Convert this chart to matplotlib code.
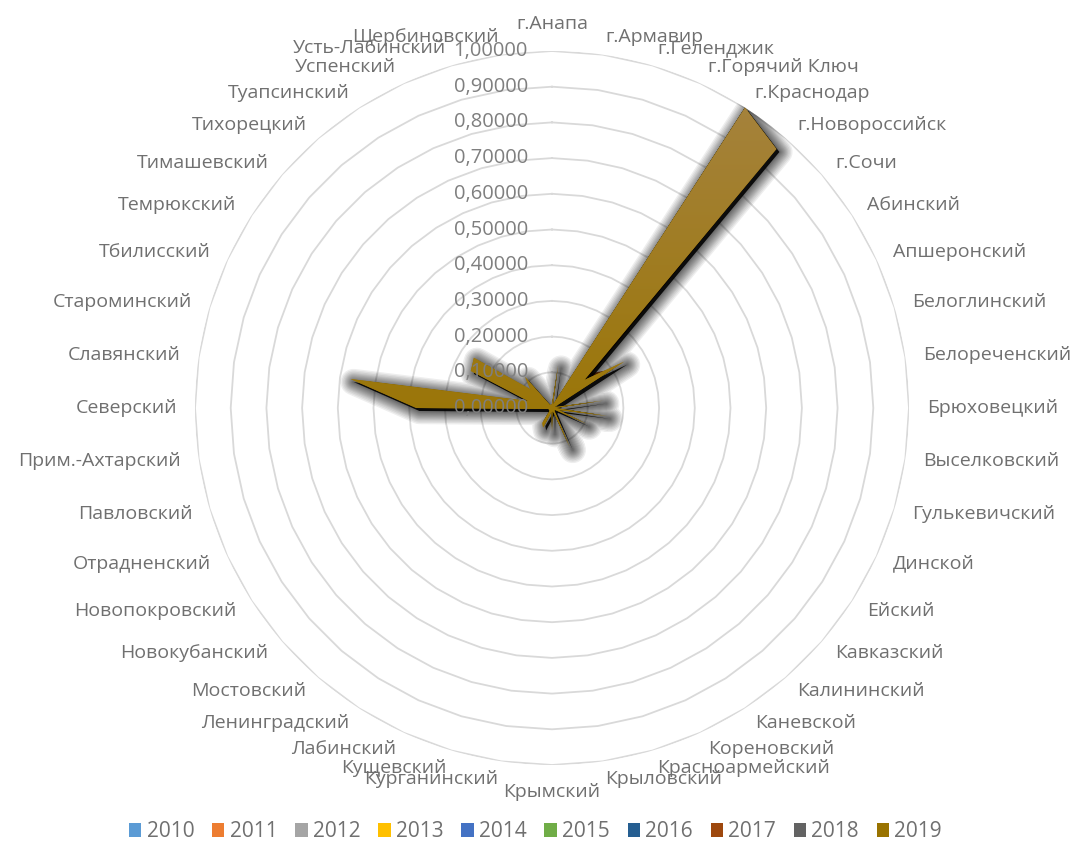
import numpy as np
import matplotlib.pyplot as plt
from matplotlib.patches import Patch
from matplotlib.transforms import offset_copy, ScaledTranslation

plt.rcParams['font.family'] = ['Open Sans', 'DejaVu Sans']

districts = ['г.Анапа', 'г.Армавир', 'г.Геленджик', 'г.Горячий Ключ', 'г.Краснодар',
             'г.Новороссийск', 'г.Сочи', 'Абинский', 'Апшеронский', 'Белоглинский',
             'Белореченский', 'Брюховецкий', 'Выселковский', 'Гулькевичский', 'Динской',
             'Ейский', 'Кавказский', 'Калининский', 'Каневской', 'Кореновский',
             'Красноармейский', 'Крыловский', 'Крымский', 'Курганинский', 'Кущевский',
             'Лабинский', 'Ленинградский', 'Мостовский', 'Новокубанский', 'Новопокровский',
             'Отрадненский', 'Павловский', 'Прим.-Ахтарский', 'Северский', 'Славянский',
             'Староминский', 'Тбилисский', 'Темрюкский', 'Тимашевский', 'Тихорецкий',
             'Туапсинский', 'Успенский', 'Усть-Лабинский', 'Щербиновский']

years = ['2010', '2011', '2012', '2013', '2014', '2015', '2016', '2017', '2018', '2019']
colors = ['#5B9BD5', '#ED7D31', '#A5A5A5', '#FFC000', '#4472C4',
          '#70AD47', '#255E91', '#9E480E', '#636363', '#997300']

# values per year (same order as districts)
v2010 = [0.006, 0.080, 0.006, 0.010, 1.000, 0.800, 0.080, 0.150, 0.006, 0.006, 0.090,
         0.006, 0.100, 0.010, 0.070, 0.006, 0.006, 0.006, 0.010, 0.080, 0.006,
         0.006, 0.040, 0.006, 0.010, 0.040, 0.030, 0.006, 0.006, 0.006, 0.006, 0.006,
         0.010, 0.250, 0.400, 0.040, 0.160, 0.170, 0.050, 0.070, 0.006, 0.006, 0.006, 0.006]
v2011 = [0.006, 0.085, 0.006, 0.011, 1.000, 0.820, 0.085, 0.160, 0.006, 0.006, 0.095,
         0.006, 0.105, 0.011, 0.075, 0.006, 0.006, 0.006, 0.011, 0.085, 0.006,
         0.006, 0.042, 0.006, 0.011, 0.042, 0.032, 0.006, 0.006, 0.006, 0.006, 0.006,
         0.011, 0.265, 0.420, 0.042, 0.170, 0.180, 0.052, 0.075, 0.006, 0.006, 0.006, 0.006]
v2012 = [0.007, 0.090, 0.007, 0.012, 1.000, 0.840, 0.090, 0.170, 0.007, 0.007, 0.100,
         0.007, 0.110, 0.012, 0.078, 0.007, 0.007, 0.007, 0.012, 0.090, 0.007,
         0.007, 0.045, 0.007, 0.012, 0.045, 0.035, 0.007, 0.007, 0.007, 0.007, 0.007,
         0.012, 0.280, 0.440, 0.045, 0.180, 0.190, 0.055, 0.080, 0.007, 0.007, 0.007, 0.007]
v2013 = [0.007, 0.095, 0.007, 0.013, 1.000, 0.860, 0.095, 0.180, 0.007, 0.007, 0.105,
         0.007, 0.115, 0.013, 0.082, 0.007, 0.007, 0.007, 0.013, 0.095, 0.007,
         0.007, 0.048, 0.007, 0.013, 0.047, 0.037, 0.007, 0.007, 0.007, 0.007, 0.007,
         0.013, 0.290, 0.460, 0.048, 0.190, 0.200, 0.058, 0.085, 0.007, 0.007, 0.007, 0.007]
v2014 = [0.008, 0.100, 0.008, 0.014, 1.000, 0.880, 0.100, 0.190, 0.008, 0.008, 0.110,
         0.008, 0.120, 0.014, 0.085, 0.008, 0.008, 0.008, 0.014, 0.100, 0.008,
         0.008, 0.050, 0.008, 0.014, 0.049, 0.039, 0.008, 0.008, 0.008, 0.008, 0.008,
         0.014, 0.300, 0.480, 0.050, 0.200, 0.210, 0.060, 0.088, 0.008, 0.008, 0.008, 0.008]
v2015 = [0.008, 0.102, 0.008, 0.015, 1.000, 0.900, 0.105, 0.200, 0.008, 0.008, 0.115,
         0.008, 0.125, 0.015, 0.088, 0.008, 0.008, 0.008, 0.015, 0.102, 0.008,
         0.008, 0.052, 0.008, 0.015, 0.050, 0.040, 0.008, 0.008, 0.008, 0.008, 0.008,
         0.015, 0.315, 0.495, 0.055, 0.210, 0.220, 0.063, 0.092, 0.008, 0.008, 0.008, 0.008]
v2016 = [0.009, 0.105, 0.009, 0.016, 1.000, 0.920, 0.108, 0.205, 0.009, 0.009, 0.120,
         0.009, 0.130, 0.016, 0.090, 0.009, 0.009, 0.009, 0.016, 0.105, 0.009,
         0.009, 0.055, 0.009, 0.016, 0.052, 0.042, 0.009, 0.009, 0.009, 0.009, 0.009,
         0.016, 0.330, 0.510, 0.058, 0.220, 0.228, 0.066, 0.095, 0.009, 0.009, 0.009, 0.009]
v2017 = [0.009, 0.108, 0.009, 0.017, 1.000, 0.955, 0.150, 0.200, 0.009, 0.009, 0.125,
         0.009, 0.135, 0.017, 0.092, 0.009, 0.009, 0.009, 0.017, 0.108, 0.009,
         0.009, 0.058, 0.009, 0.017, 0.054, 0.044, 0.009, 0.009, 0.009, 0.009, 0.009,
         0.017, 0.340, 0.520, 0.060, 0.225, 0.235, 0.068, 0.098, 0.009, 0.009, 0.009, 0.009]
v2018 = [0.009, 0.110, 0.009, 0.018, 1.000, 0.930, 0.110, 0.220, 0.009, 0.009, 0.130,
         0.009, 0.140, 0.018, 0.095, 0.009, 0.009, 0.009, 0.018, 0.110, 0.009,
         0.009, 0.060, 0.009, 0.018, 0.055, 0.045, 0.009, 0.009, 0.009, 0.009, 0.009,
         0.018, 0.350, 0.530, 0.062, 0.230, 0.240, 0.070, 0.100, 0.009, 0.009, 0.009, 0.009]
v2019 = [0.010, 0.120, 0.010, 0.020, 1.000, 0.960, 0.120, 0.240, 0.010, 0.010, 0.145,
         0.010, 0.155, 0.020, 0.105, 0.010, 0.010, 0.010, 0.020, 0.120, 0.010,
         0.010, 0.065, 0.010, 0.020, 0.060, 0.050, 0.010, 0.010, 0.010, 0.010, 0.010,
         0.020, 0.380, 0.570, 0.070, 0.250, 0.260, 0.080, 0.115, 0.010, 0.010, 0.010, 0.010]
series = [v2010, v2011, v2012, v2013, v2014, v2015, v2016, v2017, v2018, v2019]

rings = [0.0, 0.1, 0.2, 0.3, 0.4, 0.5, 0.6, 0.7, 0.8, 0.9, 1.0]

n = len(districts)
theta = np.linspace(0, 2 * np.pi, n, endpoint=False)
theta_c = np.append(theta, theta[0])

fig = plt.figure(figsize=(10.71, 8.41), dpi=100)
rect = [195 / 1071, 76 / 841, 714 / 1071, 714 / 841]
ax = fig.add_axes(rect, projection='polar')
ax.set_theta_zero_location('N')
ax.set_theta_direction(-1)
ax.set_ylim(0, 1)
ax.grid(False)
ax.set_xticks([])
ax.set_yticks([])
ax.spines['polar'].set_visible(False)
ax.patch.set_alpha(0)

# polygon gridlines
for r in rings[1:]:
    ax.plot(theta_c, [r] * (n + 1), color='#D9D9D9', lw=1.3, zorder=0)

# series fills
for vals, c in zip(series[:-1], colors[:-1]):
    ax.fill(theta, vals, color=c, lw=0, zorder=2)

# soft blurred shadow under the last series (stacked translucent strokes)
shadow_tr = ax.transData + ScaledTranslation(3 / 100, -3 / 100, fig.dpi_scale_trans)
for lw in [19, 17, 15, 13, 11.5, 10, 8.5, 7, 5.5, 4, 2.8, 1.6]:
    ax.fill(theta, v2019, facecolor=(0, 0, 0, 0), edgecolor=(0, 0, 0, 0.065), lw=lw,
            joinstyle='round', transform=shadow_tr, zorder=3)
ax.fill(theta, v2019, facecolor=(0, 0, 0, 0.9), lw=0, transform=shadow_tr, zorder=3)
top = ax.fill(theta, v2019, color=colors[-1], lw=0, zorder=4)[0]

# vertical gradient on the last series
ax2 = fig.add_axes(rect)
ax2.set_xlim(-1, 1)
ax2.set_ylim(-1, 1)
ax2.axis('off')
yy = np.linspace(-1, 1, 400)
t = np.clip((yy + 0.15) / 1.15, 0, 1)[:, None]
base = np.array([0.60, 0.455, 0.0])
light = np.array([0.655, 0.52, 0.27])
grad = base * (1 - t[..., None]) + light * t[..., None]
grad = np.repeat(grad, 4, axis=1)
im = ax2.imshow(grad, extent=(-1, 1, -1, 1), origin='lower', aspect='auto')
im.set_clip_path(top)

# value axis labels
lab_tr = offset_copy(ax.transData, fig=fig, x=-24, y=0, units='dots')
for r in rings:
    fig.text(0, r, '{:.5f}'.format(r).replace('.', ','), transform=lab_tr,
             ha='right', va='center', fontsize=14.5, color='#7F7F7F')

# category labels
for ang, name in zip(theta, districts):
    s = np.sin(ang)
    if abs(s) < 1e-6:
        ha = 'center'
        va = 'bottom' if np.cos(ang) > 0 else 'top'
    else:
        ha = 'left' if s > 0 else 'right'
        va = 'center'
    ax.text(ang, 1.05, name, ha=ha, va=va, fontsize=14, color='#707070')

handles = [Patch(facecolor=c) for c in colors]
fig.legend(handles, years, loc='lower center', bbox_to_anchor=(0.5, -0.024), ncol=10,
           frameon=False, fontsize=15, labelcolor='#707070', handlelength=0.6,
           handleheight=0.6, handletextpad=0.25, columnspacing=0.85)

fig.savefig('out.png', dpi=100)
